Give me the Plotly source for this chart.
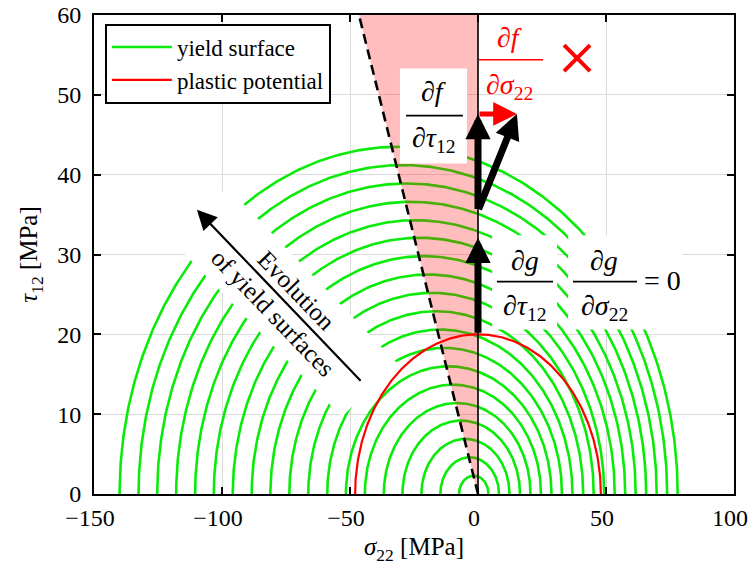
import numpy as np
import plotly.graph_objects as go

# ---------------- data ----------------
# 19 self-similar yield surfaces: compressive intercept, tensile intercept, peak shear
yc_intercepts = [7.4, 14.7, 22.1, 29.5, 36.8, 44.2, 51.6, 58.9, 66.3, 73.7,
                 81.1, 88.4, 95.8, 103.2, 110.5, 117.9, 125.3, 132.6, 140.0]
yt_intercepts = [4.1, 8.2, 12.3, 16.4, 20.5, 24.6, 28.7, 32.8, 36.9, 41.1,
                 45.2, 49.3, 53.4, 57.5, 61.6, 65.7, 69.8, 73.9, 78.0]
tau_peaks = [2.3, 4.6, 6.9, 9.2, 11.4, 13.7, 16.0, 18.3, 20.6, 22.9,
             25.2, 27.5, 29.8, 32.1, 34.3, 36.6, 38.9, 41.2, 43.5]

# plastic potential (ellipse centred on the origin)
pp_sigma_axis = 48.0
pp_tau_axis = 20.0

# friction wedge: dashed line from origin to (wedge_top_x, wedge_top_y)
wedge_top_x = -46.5
wedge_top_y = 60.0

# gradient arrows: (tail_x, tail_y, tip_x, tip_y)
arrow_dg_dtau = (0.0, 20.0, 0.0, 32.1)
arrow_df_dtau = (0.0, 35.5, 0.0, 47.6)
arrow_df = (0.0, 35.5, 15.2, 47.6)
arrow_df_dsigma = (0.0, 47.6, 15.2, 47.6)
evolution_arrow = (-45.3, 14.0, -109.8, 35.6)
cross_mark = (38.7, 54.6)

x_ticks = [-150, -100, -50, 0, 50, 100]
x_ticklabels = ["−150", "−100", "−50", "0", "50", "100"]
y_ticks = [0, 10, 20, 30, 40, 50, 60]
x_range = [-150, 100]
y_range = [0, 60]

FONT = "Liberation Serif"
GREEN = "rgb(10,235,10)"

fig = go.Figure()

theta = np.linspace(0, np.pi, 361)
for i, (yc, yt, tp) in enumerate(zip(yc_intercepts, yt_intercepts, tau_peaks)):
    c = (yt - yc) / 2.0
    a = (yt + yc) / 2.0
    fig.add_trace(go.Scatter(
        x=c + a * np.cos(theta), y=tp * np.sin(theta), mode="lines",
        line=dict(color=GREEN, width=2.6), name="yield surface",
        showlegend=(i == 0), hoverinfo="skip"))

fig.add_trace(go.Scatter(
    x=pp_sigma_axis * np.cos(theta), y=pp_tau_axis * np.sin(theta), mode="lines",
    line=dict(color="red", width=2.2), name="plastic potential", hoverinfo="skip"))

# pink wedge
fig.add_trace(go.Scatter(
    x=[0, wedge_top_x, 0, 0], y=[0, wedge_top_y, wedge_top_y, 0], mode="lines",
    fill="toself", fillcolor="rgba(255,0,0,0.26)", line=dict(width=0),
    showlegend=False, hoverinfo="skip"))
fig.add_trace(go.Scatter(
    x=[0, wedge_top_x], y=[0, wedge_top_y], mode="lines",
    line=dict(color="black", width=2.6, dash="10px,6px"), showlegend=False, hoverinfo="skip"))
fig.add_trace(go.Scatter(
    x=[0, 0], y=[0, wedge_top_y], mode="lines",
    line=dict(color="black", width=1.6), showlegend=False, hoverinfo="skip"))

# red cross
fig.add_trace(go.Scatter(
    x=[cross_mark[0]], y=[cross_mark[1]], mode="markers",
    marker=dict(symbol="x-thin", size=26, line=dict(color="red", width=4)),
    showlegend=False, hoverinfo="skip"))

shapes = []
annotations = []

def box(x0, x1, y0, y1):
    shapes.append(dict(type="rect", xref="x", yref="y", x0=x0, x1=x1, y0=y0, y1=y1,
                       fillcolor="white", line=dict(width=0), layer="above"))

def frac(xc, y_num, y_den, bar_y, bx0, bx1, num, den, color="black", size=28):
    shapes.append(dict(type="line", xref="x", yref="y", x0=bx0, x1=bx1, y0=bar_y, y1=bar_y,
                       line=dict(color=color, width=1.6), layer="above"))
    annotations.append(dict(x=xc, y=y_num, xref="x", yref="y", text=num, showarrow=False,
                            font=dict(family=FONT, size=size, color=color)))
    annotations.append(dict(x=xc, y=y_den, xref="x", yref="y", text=den, showarrow=False,
                            font=dict(family=FONT, size=size, color=color)))

# white label boxes
box(-30.5, -4.3, 41.4, 53.3)
box(5.5, 30.9, 20.6, 32.4)
box(35.2, 80.0, 20.6, 32.4)

frac(-17.4, 50.4, 44.4, 47.4, -28.1, -5.9, "∂<i>f</i>", "∂<i>τ</i><sub>12</sub>")
frac(12.3, 57.2, 51.0, 54.4, 0.4, 25.4, "∂<i>f</i>", "∂<i>σ</i><sub>22</sub>", color="red")
frac(18.2, 29.2, 23.3, 26.6, 7.4, 29.3, "∂<i>g</i>", "∂<i>τ</i><sub>12</sub>")
frac(49.3, 29.2, 23.3, 26.6, 37.1, 62.1, "∂<i>g</i>", "∂<i>σ</i><sub>22</sub>")
annotations.append(dict(x=72.0, y=26.75, xref="x", yref="y", text="= 0", showarrow=False,
                        font=dict(family=FONT, size=28, color="black")))

def arrow(spec, color, width, size, head=2):
    tx, ty, hx, hy = spec
    annotations.append(dict(x=hx, y=hy, ax=tx, ay=ty, xref="x", yref="y", axref="x", ayref="y",
                            text="", showarrow=True, arrowhead=head, arrowsize=size,
                            arrowwidth=width, arrowcolor=color, standoff=0, startstandoff=0))

# evolution label (rotated, white box)
annotations.append(dict(x=-75.6, y=24.0, xref="x", yref="y",
                        text="Evolution<br>of yield surfaces", showarrow=False,
                        textangle=46, bgcolor="white", borderpad=8, width=228,
                        font=dict(family=FONT, size=25, color="black")))
arrow(evolution_arrow, "black", 2.2, 1.8)

arrow(arrow_dg_dtau, "black", 7, 0.72)
arrow(arrow_df_dtau, "black", 7, 0.72)
arrow(arrow_df, "black", 7, 0.72)
arrow(arrow_df_dsigma, "red", 5, 0.95)

axis_common = dict(showline=True, linecolor="black", linewidth=2, mirror="ticks",
                   ticks="inside", ticklen=7, tickwidth=1.5, tickcolor="black",
                   showgrid=True, gridcolor="#dadada", gridwidth=1, zeroline=False,
                   automargin=False, ticklabeloverflow="allow")

fig.update_layout(
    width=750, height=572,
    margin=dict(l=94, r=16, t=15, b=78),
    paper_bgcolor="white", plot_bgcolor="white",
    xaxis=dict(range=x_range, tickvals=x_ticks, ticktext=x_ticklabels,
               tickfont=dict(family=FONT, size=24, color="black"),
               title=dict(text="<i>σ</i><sub>22</sub> [MPa]", standoff=8,
                          font=dict(family=FONT, size=25, color="black")),
               ticklabelstandoff=1, ticklabelshift=-4, **axis_common),
    yaxis=dict(range=y_range, tickvals=y_ticks,
               tickfont=dict(family=FONT, size=24, color="black"),
               title=dict(text="<i>τ</i><sub>12</sub> [MPa]", standoff=12,
                          font=dict(family=FONT, size=25, color="black")),
               ticklabelstandoff=6, **axis_common),
    legend=dict(x=0.017, y=0.982, xanchor="left", yanchor="top",
                bgcolor="white", bordercolor="black", borderwidth=2,
                font=dict(family=FONT, size=23, color="black"),
                itemwidth=60, tracegroupgap=0),
    shapes=shapes, annotations=annotations,
)

fig.write_html("out.html")
